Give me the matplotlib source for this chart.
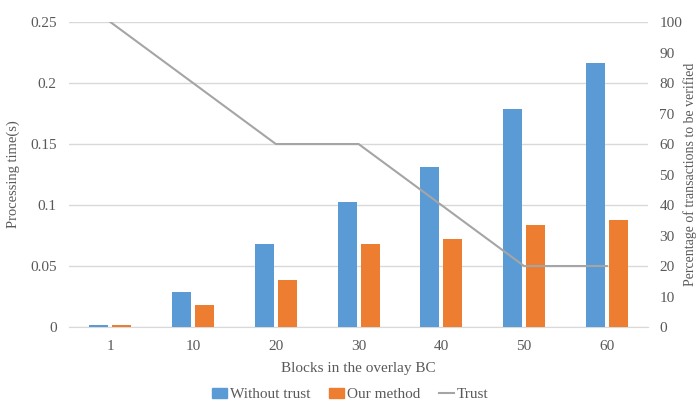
import numpy as np
import matplotlib
matplotlib.use("Agg")
import matplotlib.pyplot as plt
from matplotlib.lines import Line2D
from matplotlib.patches import Patch

# data
blocks = ["1", "10", "20", "30", "40", "50", "60"]
without_trust = [0.0015, 0.029, 0.068, 0.1025, 0.131, 0.179, 0.2165]
our_method = [0.0015, 0.018, 0.0385, 0.068, 0.072, 0.084, 0.0877]
trust_pct = [100, 80, 60, 60, 40, 20, 20]

blue = "#5B9BD5"
orange = "#ED7D31"
gray = "#A5A5A5"
txt = "#595959"

plt.rcParams["font.family"] = ["Liberation Serif", "DejaVu Serif"]

fig = plt.figure(figsize=(7, 4.01), dpi=100)
ax = fig.add_axes([0.0986, 0.1845, 0.8274, 0.7605])
x = np.arange(len(blocks))
w = 0.23
ax.bar(x - 0.14, without_trust, w, color=blue, zorder=3)
ax.bar(x + 0.14, our_method, w, color=orange, zorder=3)
ax.set_xlim(-0.5, len(blocks) - 0.5)
ax.set_ylim(0, 0.25)
ax.set_yticks([0, 0.05, 0.1, 0.15, 0.2, 0.25])
ax.set_yticklabels(["0", "0.05", "0.1", "0.15", "0.2", "0.25"])
ax.set_xticks(x)
ax.set_xticklabels(blocks)
ax.grid(axis="y", color="#D9D9D9", linewidth=1, zorder=0)
for s in ["top", "left", "right"]:
    ax.spines[s].set_visible(False)
ax.spines["bottom"].set_color("#D9D9D9")
ax.tick_params(length=0, labelsize=11, colors=txt, pad=9)
ax.set_xlabel("Blocks in the overlay BC", fontsize=11, color=txt, labelpad=7)
ax.set_ylabel("Processing time(s)", fontsize=10.5, color=txt)
ax.yaxis.set_label_coords(-0.085, 0.5)

ax2 = ax.twinx()
ax2.plot(x, trust_pct, color=gray, linewidth=1.5, zorder=4)
ax2.set_ylim(0, 100)
ax2.set_yticks(range(0, 101, 10))
for s in ["top", "left", "right", "bottom"]:
    ax2.spines[s].set_visible(False)
ax2.tick_params(length=0, labelsize=11, colors=txt, pad=8)
ax2.set_ylabel("Percentage of transactions to be verified", fontsize=10,
               color=txt, rotation=90)
ax2.yaxis.set_label_coords(1.06, 0.5)

handles = [Patch(color=blue), Patch(color=orange),
           Line2D([0], [0], color=gray, linewidth=1.5)]
fig.legend(handles, ["Without trust", "Our method", "Trust"], loc="lower center",
           bbox_to_anchor=(0.5, -0.035), ncol=3, frameon=False, fontsize=11,
           labelcolor=txt, handlelength=1.0, handleheight=0.7, handletextpad=0.2,
           columnspacing=1.2)

fig.savefig("out.png", dpi=100)
